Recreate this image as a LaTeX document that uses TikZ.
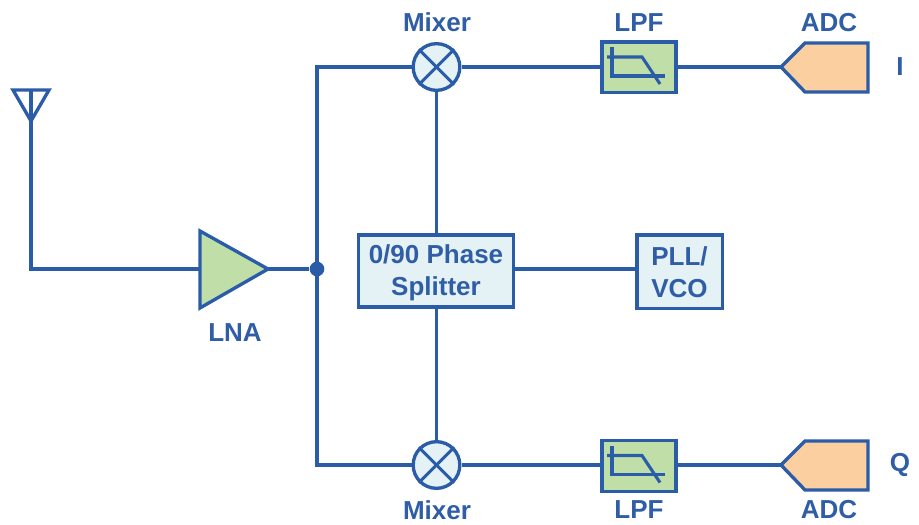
\documentclass[tikz,border=0pt]{standalone}
\usepackage{fontspec}
\setmainfont{Liberation Sans}
\usetikzlibrary{calc}
\definecolor{adiblue}{HTML}{2A5CA8}
\definecolor{lblue}{HTML}{2F5DA6}
\definecolor{adigreen}{HTML}{C0DFA8}
\definecolor{adipale}{HTML}{E4F2F5}
\definecolor{adiorange}{HTML}{FBCFA0}
\tikzset{
  x=0.75pt,y=-0.75pt,
  wire/.style={draw=adiblue,line width=2.3pt},
  outl/.style={draw=adiblue,line width=2.5pt,line join=miter},
  mixerbox/.style={circle,outl,fill=adipale,minimum size=35pt,inner sep=0pt},
  lpfbox/.style={rectangle,outl,fill=adigreen,minimum width=55.5pt,minimum height=38pt,inner sep=0pt},
  textbox/.style={rectangle,outl,fill=adipale,inner sep=0pt,align=center,text=lblue,font=\fontsize{19.5}{24}\selectfont\bfseries},
  lab/.style={text=lblue,font=\fontsize{19.5}{22}\selectfont\bfseries,inner sep=0pt,anchor=center},
}
\begin{document}
\begin{tikzpicture}
\useasboundingbox (0,0) rectangle (919,524);
% anchors
\coordinate (anttip) at (31,121);
\coordinate (anttop) at (31,90);
\coordinate (antcorner) at (31,269);
\coordinate (lnain) at (200,269);
\coordinate (lnaout) at (268,269);
\coordinate (topcorner) at (317,67);
\coordinate (botcorner) at (317,465);
\coordinate (adiT) at (781,67);
\coordinate (adiB) at (781,465);
\node[circle,fill=adiblue,minimum size=11pt,inner sep=0pt] (dot) at (317,269) {};
\node[mixerbox] (mt) at (436.5,67) {};
\node[mixerbox] (mb) at (436.5,465) {};
\node[lpfbox] (lt) at (639,67.5) {};
\node[lpfbox] (lb) at (639,466) {};
\node[textbox,minimum width=116pt,minimum height=54pt] (ps) at (436,271) {\rule{0pt}{17pt}0/90 Phase\\Splitter};
\node[textbox,minimum width=64pt,minimum height=55pt] (pll) at (679.5,271.5) {\rule{0pt}{15.5pt}PLL/\\VCO};
% wires
\draw[wire] (anttop) -- (antcorner) -- (lnain);
\draw[wire] (lnaout) -- (dot);
\draw[wire] (mt.west) -- (topcorner) -- (botcorner) -- (mb.west);
\draw[wire] (mt.east) -- (mt.east -| lt.west);
\draw[wire] (mb.east) -- (mb.east -| lb.west);
\draw[wire] (adiT -| lt.east) -- (adiT);
\draw[wire] (adiB -| lb.east) -- (adiB);
\draw[wire] (mt.south) -- (mt.south |- ps.north);
\draw[wire] (mb.north) -- (mb.north |- ps.south);
\draw[wire] (dot -| ps.east) -- (dot -| pll.west);
% antenna
\draw[outl] (13,90) -- (49,90) -- (anttip) -- cycle;
% LNA
\draw[outl,fill=adigreen] (lnain |- 0,231) -- (lnaout) -- (lnain |- 0,308) -- cycle;
% ADC
\draw[outl,fill=adiorange] (adiT) -- (805,43) -- (868,43) -- (868,92) -- (805,92) -- cycle;
\draw[outl,fill=adiorange] (adiB) -- (805,441) -- (868,441) -- (868,490) -- (805,490) -- cycle;
% mixer crosses
\foreach \m in {mt,mb}{
  \draw[outl,line width=2.3pt] (\m.north west) -- (\m.south east);
  \draw[outl,line width=2.3pt] (\m.north east) -- (\m.south west);
}
% LPF glyphs
\foreach \l in {lt,lb}{
  \draw[wire] ($(\l)+(-32,-10.5)$) -- ($(\l)+(3,-10.5)$) -- ($(\l)+(21,16.5)$);
  \draw[wire] ($(\l)+(-27,-20.5)$) -- ($(\l)+(-27,8.5)$) -- ($(\l)+(26,8.5)$);
}
% labels
\node[lab] at (437,22) {Mixer};
\node[lab] at (437,510) {Mixer};
\node[lab] at (639,23) {LPF};
\node[lab] at (639,510) {LPF};
\node[lab] at (829,23) {ADC};
\node[lab] at (829,510) {ADC};
\node[lab] at (900,67) {I};
\node[lab] at (900,465) {Q};
\node[lab] at (235,333) {LNA};
\end{tikzpicture}
\end{document}
